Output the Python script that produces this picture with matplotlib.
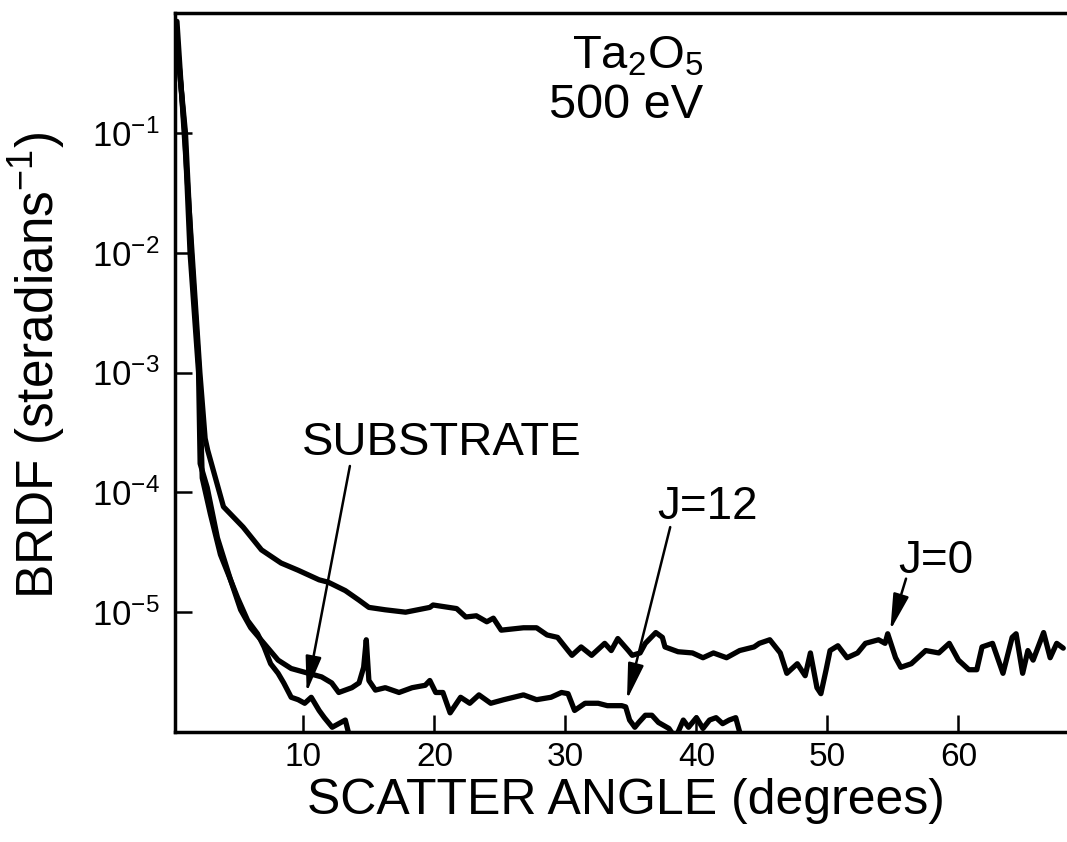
import numpy as np
import matplotlib
matplotlib.use("Agg")
import matplotlib.pyplot as plt
from matplotlib.ticker import NullLocator

plt.rcParams['font.family'] = ['Liberation Sans', 'DejaVu Sans']
plt.rcParams['mathtext.fontset'] = 'custom'
plt.rcParams['mathtext.rm'] = 'Liberation Sans'
plt.rcParams['mathtext.it'] = 'Liberation Sans:italic'
plt.rcParams['mathtext.bf'] = 'Liberation Sans:bold'

# J=0 curve (scatter angle in degrees, log10 of BRDF)
j0_angle = [0.35, 0.9, 1.5, 2.1, 2.5, 2.7, 3.9, 5.4, 6.8, 8.3, 9.6, 11.2, 11.9, 13.2,
            14.25, 15.0, 16.25, 17.8, 19.65, 19.9, 21.7, 22.4, 23.2, 24.0, 24.5, 25.1,
            26.8, 27.8, 28.6, 29.4, 30.2, 30.5, 31.2, 32.0, 33.0, 33.5, 34.0, 34.8,
            35.1, 35.7, 36.1, 36.9, 37.4, 37.6, 38.6, 39.7, 40.5, 41.3, 42.3, 43.3,
            44.4, 44.8, 45.6, 46.4, 46.9, 47.7, 48.3, 48.7, 49.2, 49.5, 49.9, 50.2,
            50.8, 51.5, 52.3, 52.9, 53.9, 54.4, 54.6, 55.2, 55.6, 56.4, 57.5, 58.5,
            59.3, 60.0, 60.8, 61.4, 61.8, 62.6, 63.4, 64.1, 64.4, 64.9, 65.3, 65.7,
            66.5, 67.0, 67.5, 68.0]
j0_log_brdf = [-0.07, -1.0, -2.0, -3.0, -3.55, -3.65, -4.12, -4.29, -4.48, -4.59, -4.65,
               -4.73, -4.75, -4.82, -4.90, -4.96, -4.98, -5.00, -4.96, -4.94, -4.97,
               -5.04, -5.03, -5.08, -5.05, -5.15, -5.13, -5.13, -5.19, -5.21, -5.32,
               -5.36, -5.29, -5.36, -5.26, -5.32, -5.22, -5.32, -5.36, -5.34, -5.26,
               -5.17, -5.21, -5.29, -5.33, -5.34, -5.38, -5.34, -5.38, -5.32, -5.29,
               -5.26, -5.23, -5.34, -5.51, -5.43, -5.53, -5.34, -5.63, -5.68, -5.48,
               -5.32, -5.28, -5.38, -5.34, -5.26, -5.23, -5.26, -5.18, -5.38, -5.46,
               -5.43, -5.32, -5.34, -5.26, -5.40, -5.48, -5.48, -5.29, -5.26, -5.51,
               -5.21, -5.18, -5.51, -5.32, -5.40, -5.17, -5.38, -5.26, -5.30]

# J=12 curve
j12_angle = [0.3, 0.95, 1.35, 2.0, 2.12, 2.66, 3.44, 4.44, 5.21, 5.98, 6.99, 8.07, 9.07,
             10.39, 11.39, 12.16, 12.7, 13.7, 14.25, 14.6, 14.8, 15.0, 15.5, 16.25, 17.3,
             18.3, 19.3, 19.65, 20.1, 20.65, 21.2, 22.0, 22.7, 23.4, 24.3, 25.3, 26.8,
             27.8, 28.9, 29.7, 30.2, 30.7, 31.5, 32.5, 33.2, 34.3, 34.6, 34.9, 35.3,
             35.6, 36.1, 36.6, 37.1, 37.9, 38.4, 39.0, 39.4, 40.0, 40.5, 41.0, 41.5,
             42.0, 42.5, 43.0, 43.3, 43.6]
j12_log_brdf = [-0.15, -1.0, -2.0, -3.0, -3.76, -3.96, -4.38, -4.73, -4.98, -5.13, -5.26,
                -5.40, -5.47, -5.51, -5.54, -5.59, -5.67, -5.63, -5.59, -5.46, -5.23,
                -5.57, -5.65, -5.63, -5.67, -5.63, -5.61, -5.57, -5.67, -5.67, -5.84,
                -5.71, -5.76, -5.69, -5.76, -5.73, -5.69, -5.73, -5.71, -5.67, -5.68,
                -5.82, -5.76, -5.76, -5.78, -5.78, -5.79, -5.90, -5.96, -5.92, -5.86,
                -5.86, -5.92, -5.97, -6.05, -5.90, -5.96, -5.88, -5.97, -5.90, -5.88,
                -5.93, -5.90, -5.88, -6.00, -6.15]

# substrate curve
sub_angle = [0.3, 1.0, 1.45, 2.05, 2.28, 2.9, 3.67, 4.44, 4.98, 5.75, 6.5, 7.0, 7.5, 8.07,
             8.5, 9.07, 9.6, 10.1, 10.6, 11.2, 11.6, 12.2, 12.7, 13.2, 13.5, 13.8]
sub_log_brdf = [-0.2, -1.0, -2.0, -3.0, -3.88, -4.18, -4.52, -4.73, -4.88, -5.07, -5.18,
                -5.29, -5.43, -5.51, -5.59, -5.71, -5.73, -5.76, -5.71, -5.82, -5.88,
                -5.96, -5.93, -5.90, -6.03, -6.15]

ytick_values = [1e-1, 1e-2, 1e-3, 1e-4, 1e-5]
ytick_labels = [r'$\mathregular{10^{-1}}$', r'$\mathregular{10^{-2}}$', r'$\mathregular{10^{-3}}$',
                r'$\mathregular{10^{-4}}$', r'$\mathregular{10^{-5}}$']
xtick_values = [10, 20, 30, 40, 50, 60]

fig = plt.figure(figsize=(10.67, 8.42), dpi=100)
ax = fig.add_axes([0.164, 0.1306, 0.846, 0.854])

for angle, logb in [(j0_angle, j0_log_brdf), (j12_angle, j12_log_brdf), (sub_angle, sub_log_brdf)]:
    ax.plot(angle, 10 ** np.array(logb), color='black', lw=3.8,
            solid_joinstyle='round', solid_capstyle='round')

ax.set_yscale('log')
ax.set_xlim(0.2, 69.1)
ax.set_ylim(1e-6, 1e0)
ax.set_yticks(ytick_values, ytick_labels)
ax.yaxis.set_minor_locator(NullLocator())
ax.set_xticks(xtick_values)
ax.tick_params(axis='both', direction='in', length=12, width=1.8, labelsize=25)
ax.tick_params(axis='y', pad=11)
ax.tick_params(axis='x', pad=7, labelsize=24)
for side in ['left', 'bottom', 'top']:
    ax.spines[side].set_linewidth(2.5)
ax.spines['right'].set_visible(False)

ax.set_xlabel('SCATTER ANGLE (degrees)', fontsize=36, va='baseline')
ax.xaxis.set_label_coords(0.5, -0.114)
ax.set_ylabel(r'BRDF (steradians$\mathregular{^{-1}}$)', fontsize=37)
ax.yaxis.set_label_coords(-0.118, 0.51)

ax.text(35.5, 10 ** -0.46, r'Ta$\mathregular{_2}$O$\mathregular{_5}$', fontsize=34, ha='center', va='baseline')
ax.text(34.6, 10 ** -0.875, '500 eV', fontsize=35, ha='center', va='baseline')
ax.text(9.9, 10 ** -3.69, 'SUBSTRATE', fontsize=34, ha='left', va='baseline')
ax.text(37.0, 10 ** -4.22, 'J=12', fontsize=33, ha='left', va='baseline')
ax.text(55.4, 10 ** -4.675, 'J=0', fontsize=33, ha='left', va='baseline')

arrow = dict(arrowstyle='-|>,head_length=1.0,head_width=0.22', color='black', lw=1.8,
             mutation_scale=22, shrinkA=0, shrinkB=0)
ax.annotate('', xy=(10.25, 10 ** -5.67), xytext=(13.55, 10 ** -3.78), arrowprops=arrow)
ax.annotate('', xy=(34.7, 10 ** -5.73), xytext=(38.0, 10 ** -4.29), arrowprops=arrow)
ax.annotate('', xy=(54.8, 10 ** -5.15), xytext=(56.0, 10 ** -4.72), arrowprops=arrow)

fig.savefig('out.png', dpi=100)
